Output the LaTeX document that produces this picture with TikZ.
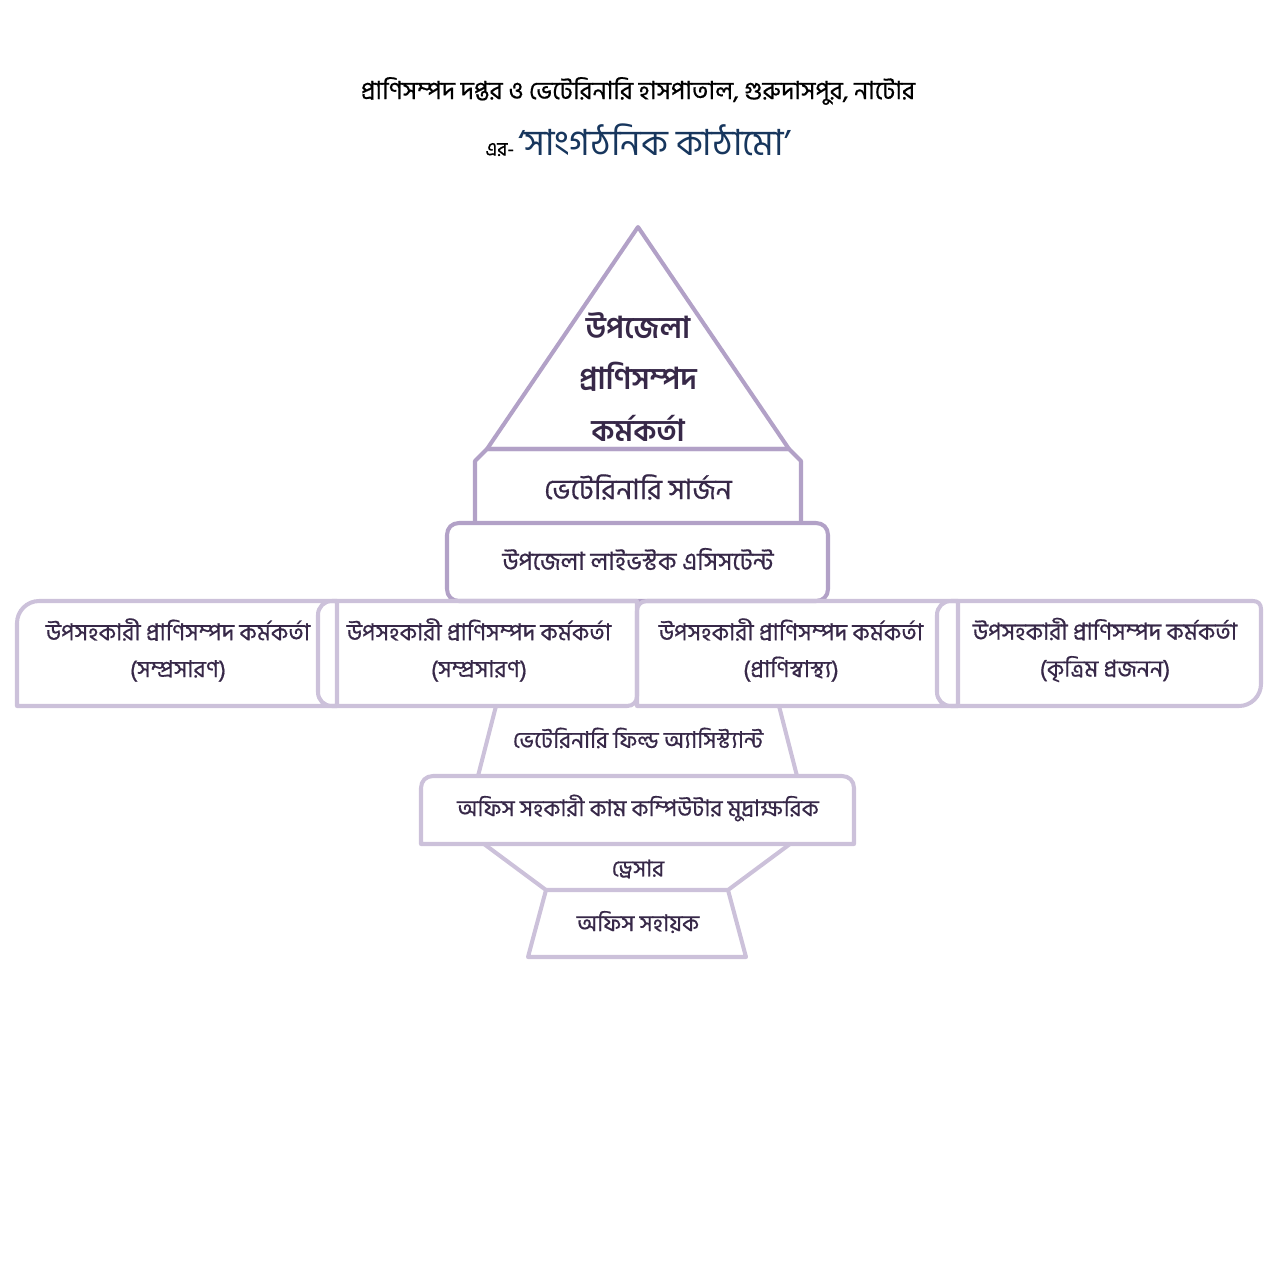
\documentclass[tikz,border=0pt]{standalone}
\usepackage{fontspec}
\newfontfamily\bn[Script=Bengali]{Hind Siliguri}
\newfontfamily\bnmed[Script=Bengali,FakeBold=0.6]{Hind Siliguri}
\definecolor{topline}{RGB}{178,161,199}
\definecolor{lowline}{RGB}{204,193,218}
\definecolor{labeltext}{RGB}{55,40,72}
\definecolor{titleblue}{RGB}{23,54,93}
\begin{document}
\begin{tikzpicture}[x=0.02cm,y=-0.02cm]
    \tikzstyle{upper}=[draw=topline, line width=2.3pt, line join=round]
    \tikzstyle{lower}=[draw=lowline, line width=2.3pt, line join=round]
    \tikzstyle{label}=[text=labeltext, align=center, inner sep=0pt, font=\bnmed\fontsize{13}{21}\selectfont]
    \useasboundingbox (0,0) rectangle (1276,1276);
    \node[inner sep=0pt, font=\bnmed\fontsize{14.2}{16}\selectfont] (title) at (638,91) {প্রাণিসম্পদ দপ্তর ও ভেটেরিনারি হাসপাতাল, গুরুদাসপুর, নাটোর};
    \node[inner sep=0pt, font=\bn] (subtitle) at (638,140) {{\bnmed\fontsize{11}{12}\selectfont এর-} {\color{titleblue}\fontsize{20.5}{24}\selectfont ‘সাংগঠনিক কাঠামো’}};
    \draw[upper] (638,227) -- (789,449) -- (487,449) -- cycle;
    \draw[upper] (475,523) -- (475,461) -- (487,449) -- (789,449) -- (801,461) -- (801,523);
    \draw[upper] (459,523) -- (816,523) .. controls (823,523) and (828,528) .. (828,535)
        -- (828,589) .. controls (828,596) and (823,601) .. (816,601)
        -- (459,601) .. controls (452,601) and (447,596) .. (447,589)
        -- (447,535) .. controls (447,528) and (452,523) .. (459,523) -- cycle;
    \draw[lower] (337,706) -- (17,706) -- (17,623) .. controls (17,611) and (27,601) .. (39,601) -- (337,601) -- cycle;
    \draw[lower] (637,601) -- (332,601) .. controls (324,601) and (318,607) .. (318,615)
        -- (318,692) .. controls (318,700) and (324,706) .. (332,706)
        -- (627,706) .. controls (633,706) and (637,702) .. (637,696) -- cycle;
    \draw[lower] (637,706) -- (637,611) .. controls (637,605) and (641,601) .. (647,601)
        -- (958,601) -- (958,706) -- cycle;
    \draw[lower] (951,601) -- (1253,601) .. controls (1258,601) and (1261,604) .. (1261,609)
        -- (1261,684) .. controls (1261,696) and (1251,706) .. (1239,706)
        -- (951,706) .. controls (943,706) and (937,700) .. (937,692)
        -- (937,615) .. controls (937,607) and (943,601) .. (951,601) -- cycle;
    \draw[lower] (496,706) -- (478,776);
    \draw[lower] (779,706) -- (797,776);
    \draw[lower] (421,844) -- (421,788) .. controls (421,781) and (426,776) .. (433,776)
        -- (842,776) .. controls (849,776) and (854,781) .. (854,788) -- (854,844) -- cycle;
    \draw[lower] (484,844) -- (546,890) -- (728,890) -- (790,844);
    \draw[lower] (546,890) -- (528,957) -- (746,957) -- (728,890);
    \node[label, font=\bn\bfseries\fontsize{17.2}{29.5}\selectfont] (upo) at (638,377) {উপজেলা\\প্রাণিসম্পদ\\কর্মকর্তা};
    \node[label, font=\bnmed\fontsize{16.1}{18}\selectfont] (vs) at (638,487) {ভেটেরিনারি সার্জন};
    \node[label, font=\bnmed\fontsize{14.1}{16}\selectfont] (ula) at (638,559) {উপজেলা লাইভস্টক এসিসটেন্ট};
    \node[label, font=\bnmed\fontsize{13.3}{21}\selectfont] (asst1) at (178,650) {উপসহকারী প্রাণিসম্পদ কর্মকর্তা\\(সম্প্রসারণ)};
    \node[label, font=\bnmed\fontsize{13.3}{21}\selectfont] (asst2) at (479,650) {উপসহকারী প্রাণিসম্পদ কর্মকর্তা\\(সম্প্রসারণ)};
    \node[label, font=\bnmed\fontsize{13.3}{21}\selectfont] (asst3) at (791,650) {উপসহকারী প্রাণিসম্পদ কর্মকর্তা\\(প্রাণিস্বাস্থ্য)};
    \node[label, font=\bnmed\fontsize{13.3}{21}\selectfont] (asst4) at (1105,650) {উপসহকারী প্রাণিসম্পদ কর্মকর্তা\\(কৃত্রিম প্রজনন)};
    \node[label] (vfa) at (638,738) {ভেটেরিনারি ফিল্ড অ্যাসিস্ট্যান্ট};
    \node[label] (osc) at (638,808) {অফিস সহকারী কাম কম্পিউটার মুদ্রাক্ষরিক};
    \node[label] (dr) at (638,869) {ড্রেসার};
    \node[label] (os) at (638,922) {অফিস সহায়ক};
\end{tikzpicture}
\end{document}
